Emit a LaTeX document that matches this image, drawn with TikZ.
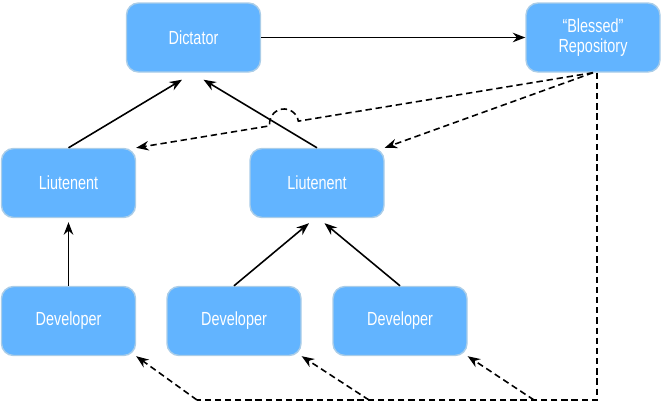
\documentclass[tikz,border=0pt]{standalone}
\usepackage{fontspec}
\setmainfont{Liberation Sans}[FakeStretch=0.76]
\usetikzlibrary{arrows.meta,calc}

\definecolor{boxblue}{RGB}{98,180,255}
\definecolor{boxedge}{RGB}{170,205,232}

\tikzset{
    role/.style = {draw = boxedge, line width = 0.8pt, fill = boxblue, rounded corners = 0.24cm,
        minimum width = 2.68cm, minimum height = 1.38cm, align = center,
        text = white, font = \fontsize{10.8}{11.8}\selectfont},
    push/.style = {line width = 0.9pt, -{Stealth[length = 2.5mm, width = 1.9mm]}},
    pull/.style = {push, dash pattern = on 3.6pt off 2.2pt},
}

\begin{document}
\begin{tikzpicture}
    \useasboundingbox (0, 0) rectangle (13.26, 8.04);

    \node[role] (dictator) at (3.87, 7.29) {Dictator};
    \node[role] (blessed) at (11.86, 7.29) {“Blessed”\\Repository};
    \node[role] (ltA) at (1.37, 4.38) {Liutenent};
    \node[role] (ltB) at (6.34, 4.38) {Liutenent};
    \node[role] (devA) at (1.37, 1.62) {Developer};
    \node[role] (devB) at (4.68, 1.62) {Developer};
    \node[role] (devC) at (8.00, 1.62) {Developer};

    \coordinate (bA) at (3.94, 0.04);
    \coordinate (bB) at (7.38, 0.04);
    \coordinate (bC) at (10.68, 0.04);

    \draw[push] (dictator) -- (blessed);
    \draw[push] (ltA.north) -- ([xshift = -0.23cm, yshift = -0.14cm]dictator.south);
    \draw[push] (ltB.north) -- ([xshift = 0.2cm, yshift = -0.14cm]dictator.south);
    \draw[push] (devA.north) -- ([yshift = -0.08cm]ltA.south);
    \draw[push] (devB.north) -- ([xshift = -0.16cm, yshift = -0.1cm]ltB.south);
    \draw[push] (devC.north) -- ([xshift = 0.15cm, yshift = -0.1cm]ltB.south);

    \draw[pull] (blessed.south) -- ($(blessed.south)!0.645!(ltA.north east)$)
        arc[start angle = 9.3, end angle = 189.3, radius = 0.29]
        -- (ltA.north east);
    \draw[pull] (blessed.south) -- (ltB.north east);
    \draw[pull, -] ([xshift = 0.08cm]blessed.south) |- (bA);
    \draw[pull] (bA) -- (devA.south east);
    \draw[pull] (bB) -- (devB.south east);
    \draw[pull] (bC) -- (devC.south east);
\end{tikzpicture}
\end{document}
